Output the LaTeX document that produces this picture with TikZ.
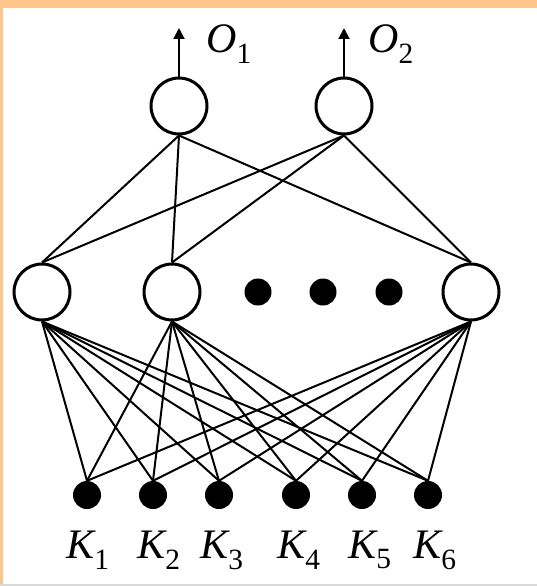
\documentclass[tikz,border=0pt]{standalone}
\usepackage{fontspec}
\setmainfont{Liberation Serif}
\usetikzlibrary{arrows.meta}
\begin{document}
\begin{tikzpicture}[x=1pt,y=-1pt,
  neuron/.style={circle,draw,line width=3pt,minimum size=56pt,inner sep=0pt,fill=white},
  bigdot/.style={circle,fill=black,minimum size=#1,inner sep=0pt},
  bigdot/.default=28pt,
  link/.style={line width=2pt},
  lab/.style={font=\fontsize{42}{46}\selectfont\itshape,inner sep=0pt}]
% background and frame
\useasboundingbox (0,0) rectangle (537,586);
\fill[white] (0,0) rectangle (537,586);
\fill[orange!45!white] (0,0) rectangle (537,8);
\fill[orange!45!white] (0,0) rectangle (2.5,586);
\fill[black!15] (0,583.5) rectangle (537,586);
% output neurons
\node[neuron] (o1) at (179,106) {};
\node[neuron] (o2) at (344,106) {};
% hidden neurons
\node[neuron] (h1) at (42,292) {};
\node[neuron] (h2) at (172,292) {};
\node[neuron] (h3) at (471,292) {};
\node[bigdot=27pt] (d1) at (258,292) {};
\node[bigdot=27pt] (d2) at (323,292) {};
\node[bigdot=27pt] (d3) at (389,292) {};
% input nodes
\node[bigdot] (k1) at (87,495) {};
\node[bigdot] (k2) at (153,495) {};
\node[bigdot] (k3) at (219,495) {};
\node[bigdot] (k4) at (296,495) {};
\node[bigdot] (k5) at (362,495) {};
\node[bigdot] (k6) at (428,495) {};
% output arrows
\coordinate (a1) at (179,28);
\coordinate (a2) at (344,28);
\draw[link,-{Triangle[length=11pt,width=11pt]}] (o1.north) -- (a1);
\draw[link,-{Triangle[length=11pt,width=11pt]}] (o2.north) -- (a2);
% output to hidden
\foreach \o in {o1,o2}
  \foreach \h in {h1,h2,h3}
    \draw[link] (\o.south) -- (\h.north);
% hidden to input
\foreach \h in {h1,h2,h3}
  \foreach \k in {k1,k2,k3,k4,k5,k6}
    \draw[link] (\h.south) -- (\k.north);
% labels
\node[lab] (lo1) at (229,44) {O\textsubscript{\upshape 1}};
\node[lab] (lo2) at (391,44) {O\textsubscript{\upshape 2}};
\node[lab] (lk1) at (88,550) {K\textsubscript{\upshape 1}};
\node[lab] (lk2) at (159,550) {K\textsubscript{\upshape 2}};
\node[lab] (lk3) at (222,550) {K\textsubscript{\upshape 3}};
\node[lab] (lk4) at (299,550) {K\textsubscript{\upshape 4}};
\node[lab] (lk5) at (370,550) {K\textsubscript{\upshape 5}};
\node[lab] (lk6) at (435,550) {K\textsubscript{\upshape 6}};
\end{tikzpicture}
\end{document}
